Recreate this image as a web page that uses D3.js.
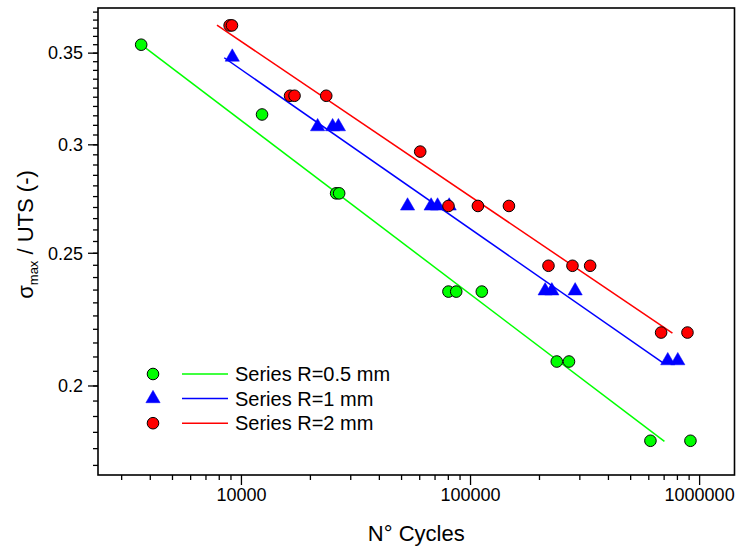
<!DOCTYPE html>
<html>
<head>
<meta charset="utf-8">
<script src="https://cdn.jsdelivr.net/npm/d3@7"></script>
<style>
  body { margin: 0; background: #fff; }
  text { font-family: "Liberation Sans", Arial, sans-serif; fill: #000; }
</style>
</head>
<body>
<script>
(function () {

// data (N cycles, sigma_max / UTS)
var greenN = [3650, 12300, 25900, 26700, 80100, 86600, 112000, 238000, 269000, 610000, 912000];
var greenS = [0.355, 0.3157, 0.2765, 0.2765, 0.2344, 0.2344, 0.2344, 0.2084, 0.2084, 0.1824, 0.1824];

var blueN = [9120, 21500, 25000, 26500, 53100, 67300, 71800, 80700, 211700, 226400, 286200, 726000, 803000];
var blueS = [0.3477, 0.3093, 0.3093, 0.3093, 0.2707, 0.2707, 0.2707, 0.2707, 0.2347, 0.2347, 0.2347, 0.2087, 0.2087];

var redN = [8880, 9090, 16300, 17050, 23450, 60300, 80100, 107700, 147100, 218900, 278600, 332800, 679000, 885000];
var redS = [0.3667, 0.3667, 0.3258, 0.3258, 0.3258, 0.2966, 0.2707, 0.2707, 0.2707, 0.2448, 0.2448, 0.2448, 0.2188, 0.2188];

// fitted lines, end points
var greenFitN = [3650, 702000];
var greenFitS = [0.355, 0.1822];
var blueFitN = [8410, 695000];
var blueFitS = [0.3473, 0.2078];
var redFitN = [7820, 761000];
var redFitS = [0.3669, 0.2186];

var seriesNames = ["Series R=0.5 mm", "Series R=1 mm", "Series R=2 mm"];

var xMajor = [10000, 100000, 1000000];
var yMajor = [0.2, 0.25, 0.3, 0.35];

var width = 737;
var height = 546;

var margin = { top: 8, bottom: 71, left: 98, right: 2.5 };

var svg = d3.select("body")
  .append("svg")
    .attr("width", width)
    .attr("height", height);

var x = d3.scaleLog()
    .domain([2365, 1420000])
    .range([margin.left, width - margin.right]);

var y = d3.scaleLog()
    .domain([0.1722, 0.3776])
    .range([height - margin.bottom, margin.top]);

var series = [
  { name: seriesNames[0], n: greenN, s: greenS, fn: greenFitN, fs: greenFitS, color: "#00ff00", shape: "circle" },
  { name: seriesNames[1], n: blueN, s: blueS, fn: blueFitN, fs: blueFitS, color: "#0000ff", shape: "triangle" },
  { name: seriesNames[2], n: redN, s: redS, fn: redFitN, fs: redFitS, color: "#ff0000", shape: "circle" }
];

// minor ticks
var xMinor = [];
[1000, 10000, 100000].forEach(function (dec) {
  for (var k = 2; k <= 9; k++) {
    var v = k * dec;
    if (v > x.domain()[0] && v < x.domain()[1]) xMinor.push(v);
  }
});
var yMinor = d3.range(35, 76).map(function (i) { return i * 0.005; })
  .filter(function (v) { return v > y.domain()[0] && v < y.domain()[1]; });

var x0 = margin.left, x1 = width - margin.right;
var y0 = height - margin.bottom, y1 = margin.top;

var axes = svg.append("g");

axes.selectAll(".xminor")
  .data(xMinor)
  .enter()
  .append("line")
    .attr("x1", function (d) { return x(d); })
    .attr("x2", function (d) { return x(d); })
    .attr("y1", y0)
    .attr("y2", y0 + 5)
    .attr("stroke", "#000")
    .attr("stroke-width", 1.3);

axes.selectAll(".xmajor")
  .data(xMajor)
  .enter()
  .append("line")
    .attr("x1", function (d) { return x(d); })
    .attr("x2", function (d) { return x(d); })
    .attr("y1", y0)
    .attr("y2", y0 + 10)
    .attr("stroke", "#000")
    .attr("stroke-width", 1.3);

axes.selectAll(".xlabel")
  .data(xMajor)
  .enter()
  .append("text")
    .attr("x", function (d) { return x(d); })
    .attr("y", y0 + 26)
    .attr("text-anchor", "middle")
    .style("font-size", "18px")
    .text(function (d) { return d; });

axes.selectAll(".yminor")
  .data(yMinor)
  .enter()
  .append("line")
    .attr("x1", x0 - 5)
    .attr("x2", x0)
    .attr("y1", function (d) { return y(d); })
    .attr("y2", function (d) { return y(d); })
    .attr("stroke", "#000")
    .attr("stroke-width", 1.3);

axes.selectAll(".ymajor")
  .data(yMajor)
  .enter()
  .append("line")
    .attr("x1", x0 - 10)
    .attr("x2", x0)
    .attr("y1", function (d) { return y(d); })
    .attr("y2", function (d) { return y(d); })
    .attr("stroke", "#000")
    .attr("stroke-width", 1.3);

axes.selectAll(".ylabel")
  .data(yMajor)
  .enter()
  .append("text")
    .attr("x", x0 - 15)
    .attr("y", function (d) { return y(d); })
    .attr("dy", "0.35em")
    .attr("text-anchor", "end")
    .style("font-size", "18px")
    .text(function (d) { return d; });

// frame
axes.append("rect")
    .attr("x", x0)
    .attr("y", y1)
    .attr("width", x1 - x0)
    .attr("height", y0 - y1)
    .attr("fill", "none")
    .attr("stroke", "#000")
    .attr("stroke-width", 1.6);

// axis titles
svg.append("text")
    .attr("x", (x0 + x1) / 2)
    .attr("y", 541)
    .attr("text-anchor", "middle")
    .style("font-size", "22px")
    .text("N° Cycles");

var ytitle = svg.append("text")
    .attr("transform", "translate(33," + ((y0 + y1) / 2 - 7) + ") rotate(-90)")
    .attr("text-anchor", "middle")
    .style("font-size", "22px");
ytitle.append("tspan").text("σ");
ytitle.append("tspan").attr("dy", 5).style("font-size", "13px").text("max");
ytitle.append("tspan").attr("dy", -5).text(" / UTS (-)");

// fit lines
var line = d3.line()
    .x(function (d) { return x(d[0]); })
    .y(function (d) { return y(d[1]); });

svg.selectAll(".fit")
  .data(series)
  .enter()
  .append("path")
    .attr("d", function (d) { return line(d3.zip(d.fn, d.fs)); })
    .attr("fill", "none")
    .attr("stroke", function (d) { return d.color; })
    .attr("stroke-width", 1.5);

function drawMarker(g, shape, color) {
  if (shape === "triangle") {
    g.append("path")
      .attr("d", d3.symbol().type(d3.symbolTriangle).size(88)())
      .attr("fill", color)
      .attr("stroke", color)
      .attr("stroke-width", 0.5);
  } else {
    g.append("circle")
      .attr("r", 5.8)
      .attr("fill", color)
      .attr("stroke", "#000")
      .attr("stroke-width", 1);
  }
}

// points
series.forEach(function (sr) {
  var pts = d3.zip(sr.n, sr.s);
  svg.append("g")
    .selectAll("g")
    .data(pts)
    .enter()
    .append("g")
      .attr("transform", function (d) { return "translate(" + x(d[0]) + "," + y(d[1]) + ")"; })
      .each(function () { drawMarker(d3.select(this), sr.shape, sr.color); });
});

// legend
var legend = svg.append("g")
    .attr("transform", "translate(153,374)");

var row = legend.selectAll(".row")
  .data(series)
  .enter()
  .append("g")
    .attr("transform", function (d, i) { return "translate(0," + (i * 24.6) + ")"; });

row.each(function (d) { drawMarker(d3.select(this), d.shape, d.color); });

row.append("line")
    .attr("x1", 29)
    .attr("x2", 75)
    .attr("y1", 0)
    .attr("y2", 0)
    .attr("stroke", function (d) { return d.color; })
    .attr("stroke-width", 1.5);

row.append("text")
    .attr("x", 82)
    .attr("y", 0)
    .attr("dy", "0.36em")
    .style("font-size", "20px")
    .text(function (d) { return d.name; });

}());
</script>
</body>
</html>
